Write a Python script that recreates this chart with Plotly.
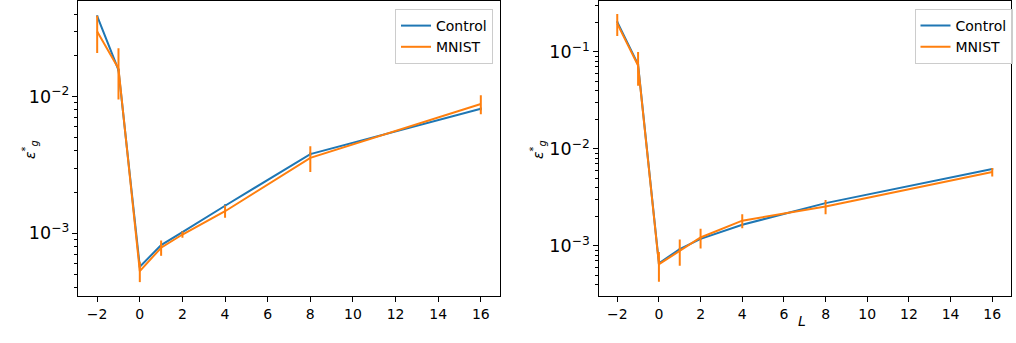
import plotly.graph_objects as go

L = [-2, -1, 0, 1, 2, 4, 8, 16]

# Left panel
left_control = [0.0387, 0.0156, 5.7e-4, 8.2e-4, 1.02e-3, 1.59e-3, 3.79e-3, 8.12e-3]
left_control_err = [0.0005, 0.0003, 1e-5, 2e-5, 2e-5, 4e-5, 1e-4, 2e-4]
left_mnist = [0.0298, 0.0160, 5.3e-4, 7.85e-4, 0.98e-3, 1.45e-3, 3.56e-3, 8.8e-3]
left_mnist_err = [0.0090, 0.0065, 0.9e-4, 1.0e-4, 0.5e-4, 1.5e-4, 0.76e-3, 1.4e-3]

# Right panel
right_control = [0.204, 0.074, 6.62e-4, 9.25e-4, 1.18e-3, 1.65e-3, 2.76e-3, 6.2e-3]
right_control_err = [0.003, 0.001, 1e-5, 2e-5, 2e-5, 3e-5, 5e-5, 1e-4]
right_mnist = [0.196, 0.0723, 6.47e-4, 8.95e-4, 1.22e-3, 1.82e-3, 2.55e-3, 5.77e-3]
right_mnist_err = [0.050, 0.0275, 2.2e-4, 2.7e-4, 2.8e-4, 3.0e-4, 0.43e-3, 0.57e-3]

BLUE = "#1f77b4"
ORANGE = "#ff7f0e"
FONT = "DejaVu Sans"

fig = go.Figure()

def add_series(x, y, err, color, name, xa, ya, legend):
    fig.add_trace(go.Scatter(
        x=x, y=y, mode="lines", name=name,
        line=dict(color=color, width=2),
        error_y=dict(type="data", array=err, visible=True, color=color, thickness=2, width=0),
        xaxis=xa, yaxis=ya, showlegend=True, legend=legend,
    ))

add_series(L, left_control, left_control_err, BLUE, "Control", "x", "y", "legend")
add_series(L, left_mnist, left_mnist_err, ORANGE, "MNIST", "x", "y", "legend")
add_series(L, right_control, right_control_err, BLUE, "Control", "x2", "y2", "legend2")
add_series(L, right_mnist, right_mnist_err, ORANGE, "MNIST", "x2", "y2", "legend2")

W, H = 1016, 343

def px(x):
    return x / W

def py(y):
    return 1 - y / H

lx0, lx1 = px(78), px(500)
rx0, rx1 = px(598.5), px(1011)
y0, y1 = py(296), py(1.2)

xcommon = dict(
    automargin=False,
    showline=True, mirror=True, linecolor="black", linewidth=1,
    ticks="outside", ticklen=5, tickwidth=1, tickcolor="black",
    tickmode="array", tickvals=[-2, 0, 2, 4, 6, 8, 10, 12, 14, 16],
    ticktext=["\u22122", "0", "2", "4", "6", "8", "10", "12", "14", "16"],
    showgrid=False, zeroline=False, range=[-2.9, 16.9],
    tickfont=dict(family=FONT, size=14, color="black"),
)
ycommon = dict(
    automargin=False,
    type="log", showline=True, mirror=True, linecolor="black", linewidth=1,
    ticks="outside", ticklen=5, tickwidth=1, tickcolor="black",
    dtick=1, exponentformat="power", showgrid=False, zeroline=False,
    tickfont=dict(family=FONT, size=14, color="black"),
    minor=dict(ticks="outside", ticklen=3, tickwidth=1, tickcolor="black", dtick="D1", showgrid=False),
)

legcommon = dict(
    xanchor="right", yanchor="top",
    bgcolor="rgba(255,255,255,0.8)", bordercolor="#cccccc", borderwidth=1,
    font=dict(family=FONT, size=14, color="black"), tracegroupgap=0,
    itemwidth=30,
)

fig.update_layout(
    width=W, height=H,
    margin=dict(l=0, r=0, t=0, b=0, autoexpand=False),
    paper_bgcolor="white", plot_bgcolor="white",
    font=dict(family=FONT, size=14, color="black"),
    xaxis=dict(domain=[lx0, lx1], anchor="y", **xcommon),
    yaxis=dict(domain=[y0, y1], anchor="x", range=[-3.458, -1.304], **ycommon),
    xaxis2=dict(domain=[rx0, rx1], anchor="y2", **xcommon),
    yaxis2=dict(domain=[y0, y1], anchor="x2", range=[-3.517, -0.477], **ycommon),
    legend=dict(x=px(493), y=py(9), **legcommon),
    legend2=dict(x=px(1012.5), y=py(9), **legcommon),
    showlegend=True,
)

ylabel = "<i>ε</i><sup>*</sup><sub><i>g</i></sub>"
fig.add_annotation(text=ylabel, xref="paper", yref="paper", x=px(18), y=py(150),
                   showarrow=False, textangle=-90, font=dict(family=FONT, size=14, color="black"))
fig.add_annotation(text=ylabel, xref="paper", yref="paper", x=px(538), y=py(150),
                   showarrow=False, textangle=-90, font=dict(family=FONT, size=14, color="black"))
fig.add_annotation(text="<i>L</i>", xref="paper", yref="paper", x=px(808), y=py(331),
                   showarrow=False, font=dict(family=FONT, size=14, color="black"))

fig.write_html("out.html", config={"displayModeBar": False},
               post_script="document.body.style.margin='0';")
